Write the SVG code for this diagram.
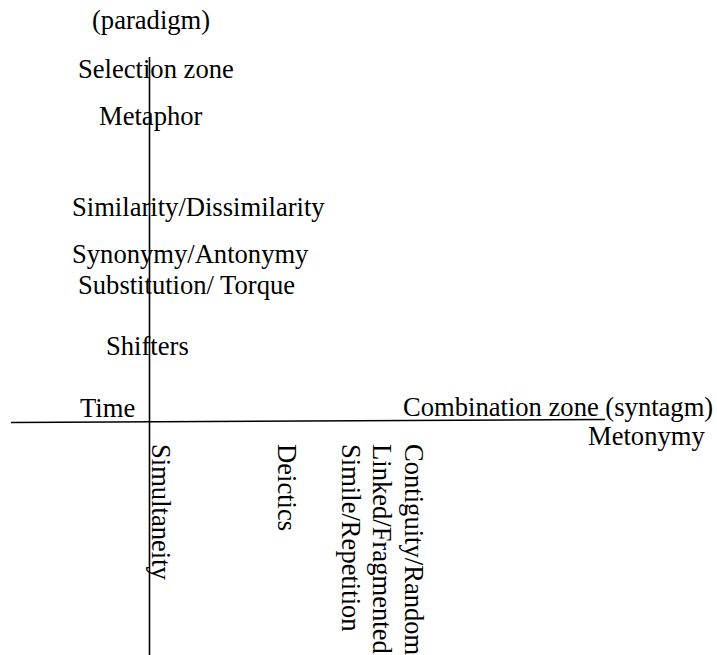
<svg xmlns="http://www.w3.org/2000/svg" width="717" height="655" viewBox="0 0 717 655">
<style>
text{font-family:"Liberation Serif","Times New Roman",serif;font-size:26.6px;fill:#000}
.ax{stroke:#000;stroke-width:1.6;fill:none}
</style>
<rect width="717" height="655" fill="#fff"/>
<g id="connectors">
<line class="ax" x1="149.5" y1="57" x2="149.5" y2="655"/>
<line class="ax" x1="11" y1="422.5" x2="605" y2="419.5"/>
</g>
<g id="paradigm"><text x="92" y="29">(paradigm)</text></g>
<g id="selection"><text x="78" y="78">Selection zone</text></g>
<g id="metaphor"><text x="99" y="125">Metaphor</text></g>
<g id="similarity"><text x="72" y="216">Similarity/Dissimilarity</text></g>
<g id="synonymy"><text x="72" y="263">Synonymy/Antonymy</text></g>
<g id="substitution"><text x="78" y="294">Substitution/ Torque</text></g>
<g id="shifters"><text x="106" y="355">Shifters</text></g>
<g id="time"><text x="80" y="417">Time</text></g>
<g id="combination"><text x="403" y="416">Combination zone (syntagm)</text></g>
<g id="metonymy"><text x="588" y="445">Metonymy</text></g>
<g id="simultaneity"><text transform="translate(152,444) rotate(90)">Simultaneity</text></g>
<g id="deictics"><text transform="translate(278,444) rotate(90)">Deictics</text></g>
<g id="simile"><text transform="translate(342,444) rotate(90)">Simile/Repetition</text></g>
<g id="linked"><text transform="translate(373,444) rotate(90)">Linked/Fragmented</text></g>
<g id="contiguity"><text transform="translate(405,444) rotate(90)">Contiguity/Random</text></g>
</svg>
